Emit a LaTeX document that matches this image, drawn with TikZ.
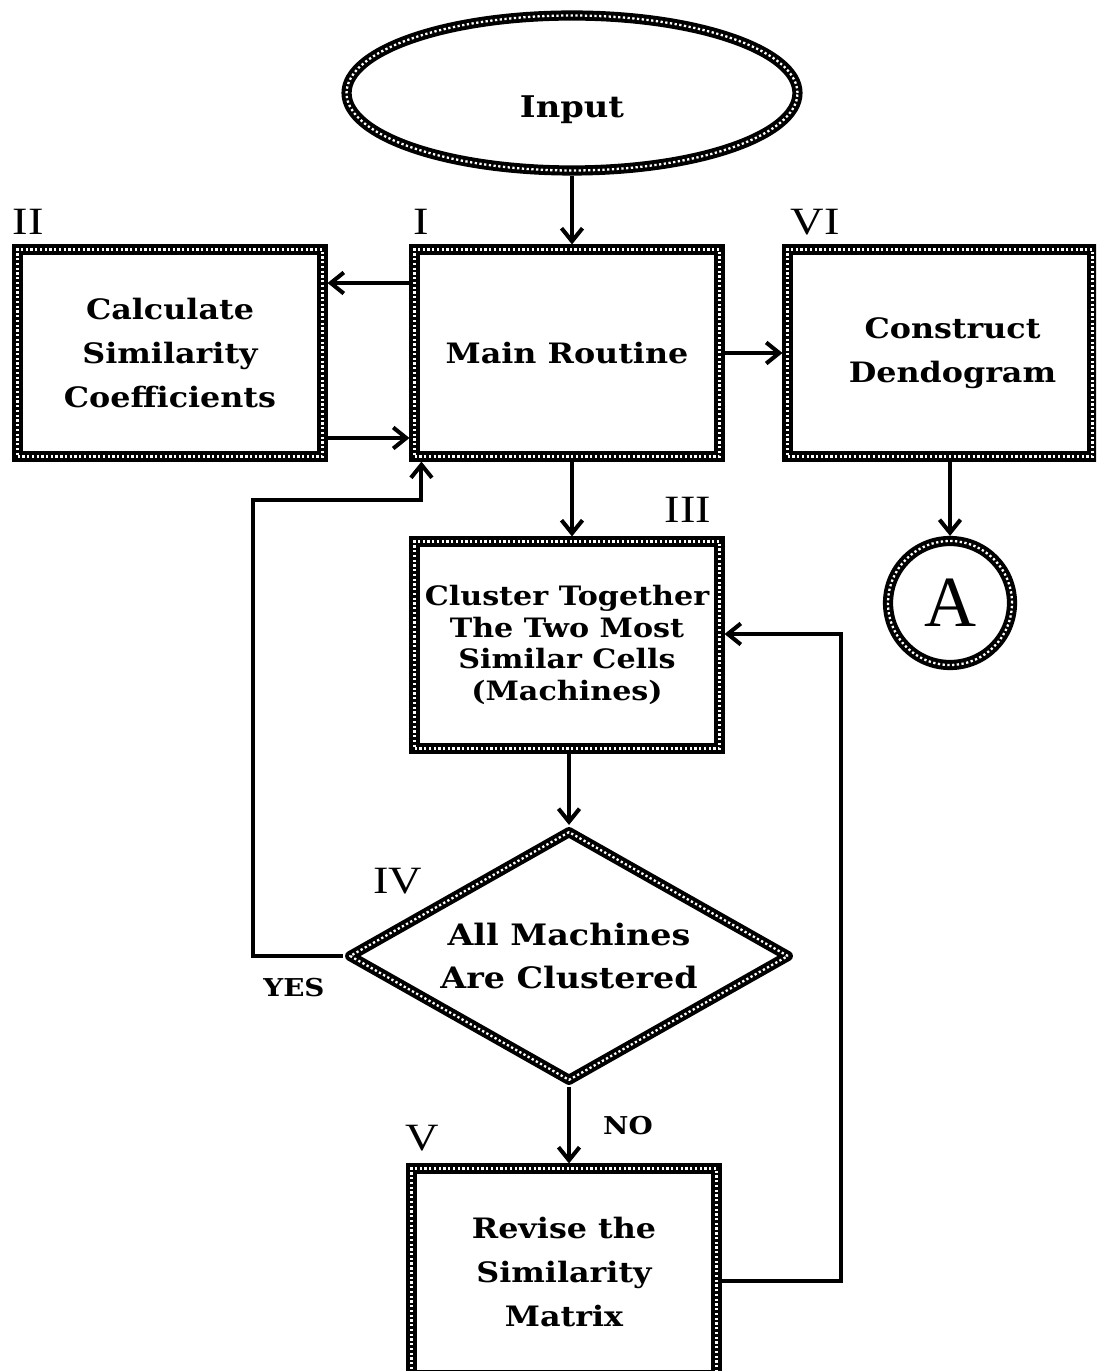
\documentclass[tikz,border=0pt]{standalone}
\usepackage{fontspec}
\setmainfont{Liberation Serif}
\newfontfamily\chartfont{DejaVu Serif}[FakeStretch=1.13]
\newfontfamily\numfont{Liberation Serif}[FakeStretch=1.2]
\usetikzlibrary{arrows.meta,shapes.geometric}
\tikzset{
  >={Straight Barb[length=2.6mm,width=4.2mm]},
  flow/.style={->,line width=2.3pt},
  beaded/.style={draw=black,line width=5.8pt,
    postaction={draw=white,line width=1.3pt,dash pattern=on 1.3pt off 1.4pt}},
  proc/.style={beaded,rectangle,minimum width=6.1cm,minimum height=4.14cm,
    inner sep=0pt,align=center,font=\chartfont\bfseries\fontsize{16}{25}\selectfont},
  tight proc/.style={proc,font=\chartfont\bfseries\fontsize{15.2}{18}\selectfont},
  start/.style={beaded,ellipse,minimum width=9.02cm,minimum height=3.1cm,inner sep=0pt},
  start text/.style={font=\chartfont\bfseries\fontsize{17}{17}\selectfont,inner sep=0pt},
  decide/.style={beaded,diamond,aspect=1.75,line join=round,minimum width=8.84cm,
    minimum height=5.04cm,inner sep=0pt,align=center,
    font=\chartfont\bfseries\fontsize{16.8}{24}\selectfont},
  connector/.style={beaded,circle,minimum size=2.48cm,inner sep=0pt,
    font=\fontsize{41}{41}\selectfont},
  num/.style={inner sep=0pt,font=\numfont\fontsize{22}{22}\selectfont},
  answer/.style={inner sep=0pt,font=\chartfont\bfseries\fontsize{14}{14}\selectfont},
}
\begin{document}
\begin{tikzpicture}[x=0.02cm,y=-0.02cm]
  \useasboundingbox (0,0) rectangle (1096,1371);
  \clip (0,0) rectangle (1096,1371);
  % flowchart shapes
  \node[start,label={[name=inputtext,start text,yshift=-0.34cm]center:Input}] (input) at (572,93) {};
  \node[proc] (main) at (567,353) {Main Routine};
  \node[proc] (sim) at (170,353) {Calculate\\Similarity\\Coefficients};
  \node[proc] (dend) at (940,353) {\hspace*{0.5cm}Construct\\\hspace*{0.5cm}Dendogram};
  \node[tight proc] (clust) at (567,645) {Cluster Together\\The Two Most\\Similar Cells\\(Machines)};
  \node[decide] (dec) at (569,956) {All Machines\\Are Clustered};
  \node[proc] (revise) at (564,1272) {Revise the\\Similarity\\Matrix};
  \node[connector] (circA) at (950,603) {A};
  % step numbers and answers
  \node[num] (n2) at (28,222) {II};
  \node[num] (n1) at (421,222) {I};
  \node[num] (n6) at (815,222) {VI};
  \node[num] (n3) at (688,510) {III};
  \node[num] (n4) at (398,881) {IV};
  \node[num] (n5) at (422,1138) {V};
  \node[answer] (yes) at (294,988) {YES};
  \node[answer] (no) at (628,1126) {NO};
  % connectors
  \coordinate (axis) at (572,0);
  \coordinate (loopL) at (253,500);
  \coordinate (loopR) at (841,634);
  \coordinate (yesin) at ([xshift=0.24cm]main.south west);
  \draw[flow] (input.south) -- (input.south |- main.north);
  \draw[flow] ([yshift=1.4cm]main.west) -- ([yshift=1.4cm]sim.east);
  \draw[flow] ([yshift=-1.7cm]sim.east) -- ([yshift=-1.7cm]main.west);
  \draw[flow] (main.east) -- (dend.west);
  \draw[flow] (circA.north |- dend.south) -- (circA.north);
  \draw[flow] (axis |- main.south) -- (axis |- clust.north);
  \draw[flow] (dec.north |- clust.south) -- (dec.north);
  \draw[flow] (dec.west) -| (loopL) -| (yesin);
  \draw[flow] (dec.south) -- (dec.south |- revise.north);
  \draw[flow] ([yshift=-0.18cm]revise.east) -| (loopR) -- (loopR -| clust.east);
\end{tikzpicture}
\end{document}
